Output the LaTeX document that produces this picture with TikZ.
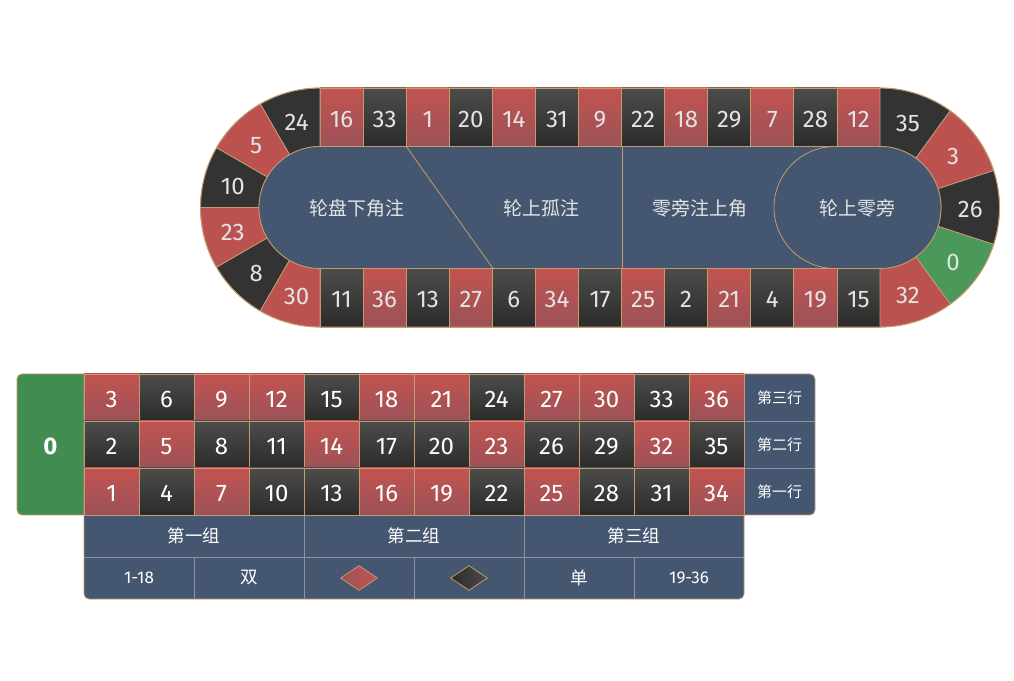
\documentclass[tikz,border=0pt]{standalone}
\usepackage{fontspec}
\setmainfont{Fira Sans}
\newfontfamily\cjk{Noto Sans CJK SC}
\usetikzlibrary{shapes.geometric}
\definecolor{trim}{HTML}{C49A6E}
\definecolor{felt}{HTML}{455770}
\definecolor{rouge}{HTML}{BC5250}
\definecolor{rougetop}{HTML}{C25350}
\definecolor{rougebot}{HTML}{9C5258}
\definecolor{noir}{HTML}{333333}
\definecolor{noirtop}{HTML}{4C4C4A}
\definecolor{noirbot}{HTML}{2B2B2B}
\definecolor{vert}{HTML}{4A995A}
\definecolor{vertdark}{HTML}{418C50}
\definecolor{numgray}{HTML}{E4E4E4}
\definecolor{seam}{HTML}{8C939E}
\tikzset{
  redcell/.style={top color=rougetop, bottom color=rougebot, draw=trim, line width=0.8pt},
  darkcell/.style={top color=noirtop, bottom color=noirbot, draw=trim, line width=0.8pt},
  redseg/.style={fill=rouge, draw=trim, line width=0.8pt},
  darkseg/.style={fill=noir, draw=trim, line width=0.8pt},
  greenseg/.style={fill=vert, draw=trim, line width=0.8pt},
  num/.style={font=\fontsize{24}{24}\selectfont, text=numgray, text height=20pt, text depth=0pt},
  cellnum/.style={font=\fontsize{24}{24}\selectfont, text=white, text height=21pt, text depth=0pt},
  zh/.style={font=\cjk\fontsize{19}{19}\selectfont, text=numgray},
  rowlabel/.style={font=\cjk\fontsize{15}{15}\selectfont, text=white},
  betlabel/.style={font=\cjk\fontsize{17.5}{17.5}\selectfont, text=white},
  rangelabel/.style={font=\fontsize{17}{17}\selectfont, text=white},
}
\begin{document}
\begin{tikzpicture}[x=1pt,y=1pt,every node/.style={inner sep=0pt}]
  \fill[white] (0,0) rectangle (1014,680);
  \useasboundingbox (0,0) rectangle (1014,680);

  % Racetrack: centres of the two half circles
  \coordinate (lc) at (320,472.5);
  \coordinate (rc) at (880,472.5);

  % Top straight
  \foreach \n/\col [count=\i from 0] in {16/red,33/dark,1/red,20/dark,14/red,31/dark,9/red,22/dark,18/red,29/dark,7/red,28/dark,12/red}
    \node[\col cell, num, minimum width=43.08pt, minimum height=58.5pt] (t\n) at ({341.54+43.08*\i},562.75) {\n};
  % Bottom straight
  \foreach \n/\col [count=\i from 0] in {11/dark,36/red,13/dark,27/red,6/dark,34/red,17/dark,25/red,2/dark,21/red,4/dark,19/red,15/dark}
    \node[\col cell, num, minimum width=43.08pt, minimum height=58.5pt] (b\n) at ({341.54+43.08*\i},382.25) {\n};

  % Left half circle
  \foreach \n/\col [count=\i from 0] in {24/dark,5/red,10/dark,23/red,8/dark,30/red}{
    \pgfmathsetmacro{\a}{90+30*\i}
    \pgfmathsetmacro{\b}{\a+30}
    \pgfmathsetmacro{\m}{\a+15}
    \filldraw[\col seg] ([shift={(\a:119.5)}]lc) arc[start angle=\a, end angle=\b, radius=119.5]
      -- ([shift={(\b:61)}]lc) arc[start angle=\b, end angle=\a, radius=61] -- cycle;
    \node[num] (s\n) at ([shift={(\m:90.25)}]lc) {\n};
  }
  % Right half circle
  \foreach \n/\col [count=\i from 0] in {35/dark,3/red,26/dark,0/green,32/red}{
    \pgfmathsetmacro{\a}{90-36*\i}
    \pgfmathsetmacro{\b}{\a-36}
    \pgfmathsetmacro{\m}{\a-18}
    \filldraw[\col seg] ([shift={(\a:119.5)}]rc) arc[start angle=\a, end angle=\b, radius=119.5]
      -- ([shift={(\b:61)}]rc) arc[start angle=\b, end angle=\a, radius=61] -- cycle;
    \node[num] (s\n) at ([shift={(\m:90.25)}]rc) {\n};
  }

  % Inner felt
  \filldraw[fill=felt, draw=trim, line width=0.8pt] (320,533.5) -- (880,533.5)
    arc[start angle=90, end angle=-90, radius=61] -- (320,411.5)
    arc[start angle=270, end angle=90, radius=61] -- cycle;
  \draw[trim, line width=0.8pt] (t33.south east) -- (b27.north east);
  \draw[trim, line width=0.8pt] (t9.south east) -- (b17.north east);
  \draw[trim, line width=0.8pt] (835,533.5) arc[start angle=90, end angle=270, radius=61];
  \node[zh] (tiers) at (357,472) {轮盘下角注};
  \node[zh] (orphans) at (541,472) {轮上孤注};
  \node[zh] (voisins) at (700,472) {零旁注上角};
  \node[zh] (zerospiel) at (857,472) {轮上零旁};

  % Outline
  \draw[trim, line width=0.8pt] (320,592) -- (880,592)
    arc[start angle=90, end angle=-90, radius=119.5] -- (320,353)
    arc[start angle=270, end angle=90, radius=119.5] -- cycle;

  % Table: zero
  \filldraw[fill=vertdark, draw=trim, line width=0.8pt] (84,306) -- (22,306)
    arc[start angle=90, end angle=180, radius=5] -- (17,170)
    arc[start angle=180, end angle=270, radius=5] -- (84,165) -- cycle;
  \node[font=\fontsize{24}{24}\selectfont\bfseries, text=white, text height=21pt, text depth=0pt] (zero) at (50.5,235.5) {0};

  % Column bets
  \filldraw[fill=felt, draw=trim, line width=0.8pt] (744,306) -- (810,306)
    arc[start angle=90, end angle=0, radius=5] -- (815,170)
    arc[start angle=0, end angle=-90, radius=5] -- (744,165) -- cycle;
  \draw[seam] (744,259) -- (815,259);
  \draw[seam] (744,212) -- (815,212);
  \node[rowlabel] (row3) at (779.5,282.5) {第三行};
  \node[rowlabel] (row2) at (779.5,235.5) {第二行};
  \node[rowlabel] (row1) at (779.5,188.5) {第一行};

  % Outside bets
  \filldraw[fill=felt, draw=trim, line width=0.8pt] (84,165) -- (744,165) -- (744,86)
    arc[start angle=0, end angle=-90, radius=5] -- (89,81)
    arc[start angle=270, end angle=180, radius=5] -- cycle;
  \draw[seam] (84,123) -- (744,123);
  \draw[seam] (304,165) -- (304,81);
  \draw[seam] (524,165) -- (524,81);
  \foreach \x in {194,414,634}
    \draw[seam] (\x,123) -- (\x,81);
  \node[betlabel] (doz1) at (194,144) {第一组};
  \node[betlabel] (doz2) at (414,144) {第二组};
  \node[betlabel] (doz3) at (634,144) {第三组};
  \node[rangelabel] (low) at (139,102) {1-18};
  \node[betlabel] (even) at (249,102) {双};
  \node[diamond, minimum width=37pt, minimum height=25pt, left color=rougebot, right color=rougetop, draw=trim, line width=0.8pt] (reddia) at (359,102) {};
  \node[diamond, minimum width=37pt, minimum height=25pt, left color=noirbot, right color=noirtop, draw=trim, line width=0.8pt] (blackdia) at (469,102) {};
  \node[betlabel] (odd) at (579,102) {单};
  \node[rangelabel] (high) at (689,102) {19-36};

  % Number grid
  \foreach \n/\col [count=\i from 0] in {3/red,6/dark,9/red,12/red,15/dark,18/red,21/red,24/dark,27/red,30/red,33/dark,36/red}
    \node[\col cell, cellnum, minimum width=55pt, minimum height=47pt] (n\n) at ({111.5+55*\i},282.5) {\n};
  \foreach \n/\col [count=\i from 0] in {2/dark,5/red,8/dark,11/dark,14/red,17/dark,20/dark,23/red,26/dark,29/dark,32/red,35/dark}
    \node[\col cell, cellnum, minimum width=55pt, minimum height=47pt] (n\n) at ({111.5+55*\i},235.5) {\n};
  \foreach \n/\col [count=\i from 0] in {1/red,4/dark,7/red,10/dark,13/dark,16/red,19/red,22/dark,25/red,28/dark,31/dark,34/red}
    \node[\col cell, cellnum, minimum width=55pt, minimum height=47pt] (n\n) at ({111.5+55*\i},188.5) {\n};
\end{tikzpicture}
\end{document}
